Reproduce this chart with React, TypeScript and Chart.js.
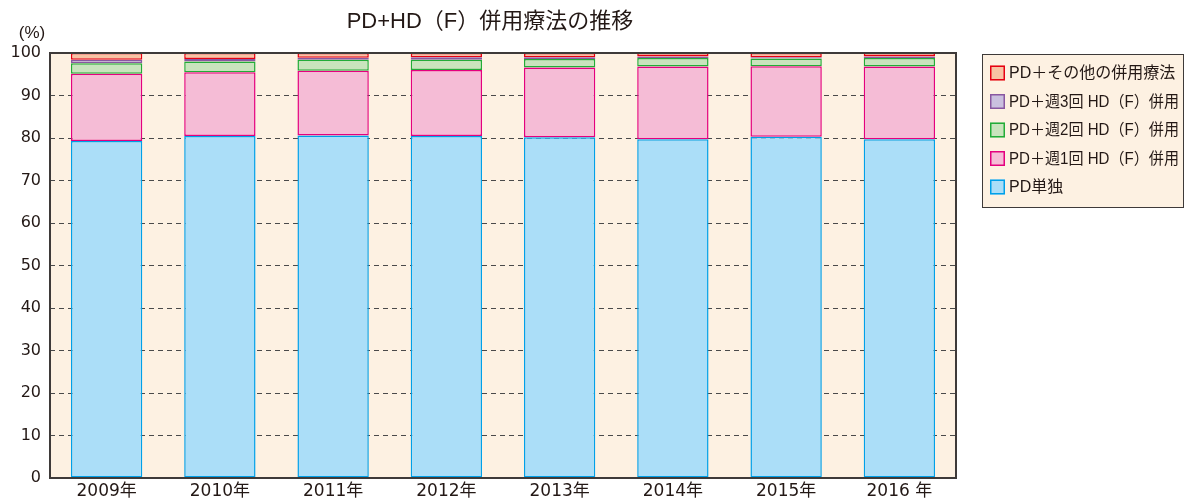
import React, { useEffect, useRef } from "react";
import { Chart, registerables } from "chart.js";

Chart.register(...registerables);

const years = ["2009年", "2010年", "2011年", "2012年", "2013年", "2014年", "2015年", "2016 年"];
const pdOnly = [79.3, 80.5, 80.6, 80.5, 80.2, 79.7, 80.3, 79.7];
const hd1 = [15.8, 15.0, 15.2, 15.5, 16.4, 17.1, 16.6, 17.1];
const hd2 = [2.5, 2.5, 2.6, 2.4, 2.0, 2.0, 1.8, 2.0];
const hd3 = [0.8, 0.6, 0.5, 0.6, 0.4, 0.4, 0.3, 0.4];
const other = [1.6, 1.4, 1.1, 1.0, 1.0, 0.8, 1.0, 0.8];

const seriesNames = ["PD単独", "PD＋週1回 HD（F）併用", "PD＋週2回 HD（F）併用", "PD＋週3回 HD（F）併用", "PD＋その他の併用療法"];
const fills = ["#abdef8", "#f5bcd6", "#c9e4bd", "#cac0df", "#f8c3a3"];
const borders = ["#00a0e9", "#e4007f", "#22ac38", "#8957a1", "#e60012"];

const titleText = "PD+HD（F）併用療法の推移";
const unitText = "(%)";
const TEXT = "#231815";
const CREAM = "#fdf1e2";
const LINE = "#3e3a39";
const LATIN_CJK = '"Liberation Sans", "Noto Sans CJK JP", sans-serif';
const TICK_FONT = '"DejaVu Sans", "Noto Sans CJK JP", sans-serif';

export default function App() {
  const ref = useRef<HTMLCanvasElement | null>(null);
  useEffect(() => {
    document.body.style.margin = "0";
    const canvas = ref.current!;
    const data = [pdOnly, hd1, hd2, hd3, other];
    const decor = {
      id: "decor",
      beforeDraw(chart: any) {
        const { ctx, chartArea: a } = chart;
        ctx.save();
        ctx.fillStyle = CREAM;
        ctx.fillRect(a.left, a.top, a.right - a.left, a.bottom - a.top);
        ctx.restore();
      },
      afterDatasetsDraw(chart: any) {
        const { ctx, chartArea: a } = chart;
        ctx.save();
        ctx.strokeStyle = LINE;
        ctx.lineWidth = 2;
        ctx.strokeRect(a.left, a.top, a.right - a.left, a.bottom - a.top);
        ctx.restore();
      },
      afterDraw(chart: any) {
        const { ctx } = chart;
        ctx.save();
        ctx.fillStyle = TEXT;
        ctx.textBaseline = "middle";
        ctx.textAlign = "center";
        ctx.font = "22px " + LATIN_CJK;
        ctx.fillText(titleText, 490, 22);
        ctx.font = "17px " + LATIN_CJK;
        ctx.fillText(unitText, 32, 33);
        // legend
        const bx = 982, by = 54, bw = 201, bh = 153;
        ctx.fillStyle = CREAM;
        ctx.fillRect(bx, by, bw, bh);
        ctx.strokeStyle = LINE;
        ctx.lineWidth = 1;
        ctx.strokeRect(bx + 0.5, by + 0.5, bw, bh);
        ctx.textAlign = "left";
        ctx.font = "16px " + LATIN_CJK;
        const rowY = [73, 101.5, 130, 158.5, 187];
        for (let r = 0; r < 5; r++) {
          const i = 4 - r;
          const y = rowY[r];
          ctx.fillStyle = fills[i];
          ctx.fillRect(990, y - 7.5, 15, 15);
          ctx.strokeStyle = borders[i];
          ctx.lineWidth = 1.5;
          ctx.strokeRect(990.75, y - 6.75, 13.5, 13.5);
          ctx.fillStyle = TEXT;
          ctx.fillText(seriesNames[i], 1009, y + 1, 170);
        }
        ctx.restore();
      },
    };
    const chart = new Chart(canvas, {
      type: "bar",
      data: {
        labels: years,
        datasets: data.map((d, i) => ({
          label: seriesNames[i],
          data: d,
          backgroundColor: fills[i],
          borderColor: borders[i],
          borderWidth: 1.5,
          borderSkipped: false,
          barPercentage: 1,
          categoryPercentage: 0.63,
        })),
      },
      options: {
        animation: false,
        responsive: false,
        maintainAspectRatio: false,
        layout: { padding: { top: 53, right: 232, left: 0, bottom: 0 } },
        plugins: { legend: { display: false }, title: { display: false }, tooltip: { enabled: false } },
        scales: {
          x: {
            stacked: true,
            grid: { display: false, drawTicks: false },
            border: { display: false },
            ticks: {
              color: TEXT,
              padding: 3,
              font: { family: TICK_FONT, size: 17 },
              maxRotation: 0,
              autoSkip: false,
            },
            afterFit(s: any) { s.height = 22; },
          },
          y: {
            stacked: true,
            min: 0,
            max: 100,
            grid: { color: "#4a4a4a", lineWidth: 1, drawTicks: false },
            border: { display: false, dash: [5, 4] },
            ticks: {
              stepSize: 10,
              color: TEXT,
              padding: 9,
              font: { family: TICK_FONT, size: 16 },
            },
            afterFit(s: any) { s.width = 50; },
          },
        },
      },
      plugins: [decor],
    });
    return () => chart.destroy();
  }, []);
  return <canvas ref={ref} width={1188} height={500} style={{ display: "block", width: 1188, height: 500 }} />;
}
